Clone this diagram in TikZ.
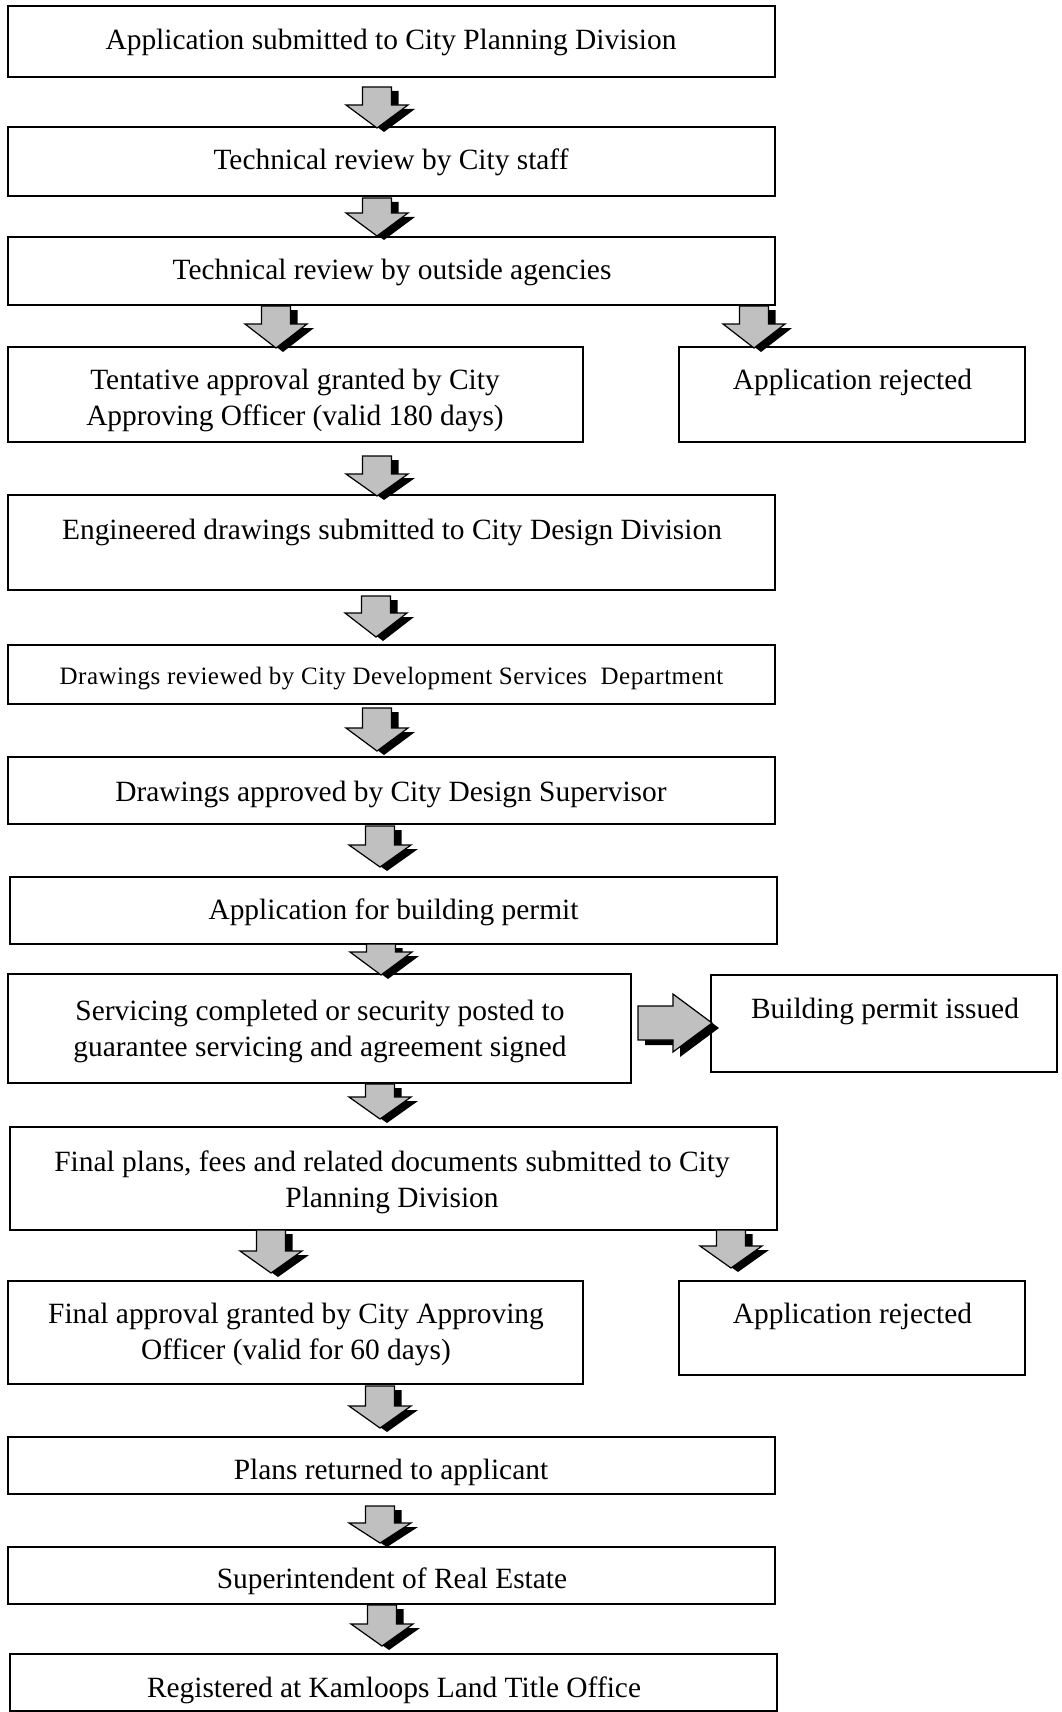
\documentclass[tikz,border=0pt]{standalone}
\usepackage{fontspec}
\setmainfont{Liberation Serif}
\newfontfamily\spacedfont[LetterSpace=2.0]{Liberation Serif}
\definecolor{arrowgray}{RGB}{192,192,192}
\newcommand\bx[5]{\node[box, minimum width={(#4-#2)*0.5pt}, minimum height={(#5-#3)*0.5pt}] (#1) at ({(#2+#4)/2},{(#3+#5)/2}) {};}
\begin{document}
\begin{tikzpicture}[x=0.5pt,y=-0.5pt,
  box/.style={draw=black, line width=1pt, inner sep=0pt, outer sep=0pt},
  txt/.style={anchor=base, align=center, inner sep=0pt, font=\fontsize{14.7}{18}\selectfont},
  arrowbody/.style={fill=arrowgray, draw=black, line width=0.6pt, line join=miter},
  pics/darrow/.style 2 args={code={
    \fill[black, shift={(7,4)}] (-14.5,0) -- (14.5,0) -- (14.5,#1) -- (31,#1) -- (0,#1+#2) -- (-31,#1) -- (-14.5,#1) -- cycle;
    \path[arrowbody] (-14.5,0) -- (14.5,0) -- (14.5,#1) -- (31,#1) -- (0,#1+#2) -- (-31,#1) -- (-14.5,#1) -- cycle;
  }},
  pics/rarrow/.style={code={
    \fill[black, shift={(7,5)}] (0,-17) -- (35,-17) -- (35,-29) -- (74,0) -- (35,29) -- (35,17) -- (0,17) -- cycle;
    \path[arrowbody] (0,-17) -- (35,-17) -- (35,-29) -- (74,0) -- (35,29) -- (35,17) -- (0,17) -- cycle;
  }}]
\useasboundingbox[fill=white] (0,0) rectangle (1061,1712);

% boxes
\bx{b1}{7.6}{6.5}{775}{77.5}
\bx{b2}{7.6}{126.6}{775}{196.5}
\bx{b3}{7.6}{237}{775}{304.5}
\bx{b4}{7.6}{347}{583}{442}
\bx{b5}{679}{347}{1025}{442}
\bx{b6}{7.6}{494.5}{775}{589.5}
\bx{b7}{7.6}{645}{775}{704}
\bx{b8}{7.6}{756.5}{775}{824}
\bx{b9}{9.8}{876.5}{777}{944}
\bx{b10}{7.6}{973.7}{631}{1083}
\bx{b11}{710.6}{975}{1056.7}{1072}
\bx{b12}{9.8}{1126.6}{777}{1230}
\bx{b13}{7.6}{1280.5}{583}{1384}
\bx{b14}{679}{1280.5}{1025}{1375.4}
\bx{b15}{7.6}{1436.5}{775}{1494.4}
\bx{b16}{7.6}{1546.8}{775}{1603.6}
\bx{b17}{9.8}{1654}{777}{1711}

% texts (multi-line nodes are placed by the baseline of their last line)
\node[txt] (t1) at (391,49.5) {Application submitted to City Planning Division};
\node[txt] (t2) at (391,169.5) {Technical review by City staff};
\node[txt] (t3) at (392,279.7) {Technical review by outside agencies};
\node[txt] (t4) at (295,425) {Tentative approval granted by City\\Approving Officer (valid 180 days)};
\node[txt] (t5) at (852.5,389) {Application rejected};
\node[txt] (t6) at (392,539.5) {Engineered drawings submitted to City Design Division};
\node[txt, font=\spacedfont\fontsize{12.5}{15}\selectfont] (t7) at (391.4,684) {Drawings reviewed by City Development Services\ \ Department};
\node[txt] (t8) at (391,801.5) {Drawings approved by City Design Supervisor};
\node[txt] (t9) at (393.5,919.4) {Application for building permit};
\node[txt] (t10) at (320,1056) {Servicing completed or security posted to\\guarantee servicing and agreement signed};
\node[txt] (t11) at (885,1018.7) {Building permit issued};
\node[txt] (t12) at (392,1207.6) {Final plans, fees and related documents submitted to City\\Planning Division};
\node[txt] (t13) at (296,1359.3) {Final approval granted by City Approving\\Officer (valid for 60 days)};
\node[txt] (t14) at (852.5,1323.3) {Application rejected};
\node[txt] (t15) at (391,1479.4) {Plans returned to applicant};
\node[txt] (t16) at (392,1588.6) {Superintendent of Real Estate};
\node[txt] (t17) at (394,1697.7) {Registered at Kamloops Land Title Office};

% block arrows
\pic at (377,87) {darrow={18}{23}};
\pic at (377,198) {darrow={15}{23}};
\pic at (276,306) {darrow={18}{24}};
\pic at (754,306) {darrow={18}{24}};
\pic at (377,456) {darrow={18}{22}};
\pic at (376,596) {darrow={17}{24}};
\pic at (377,708) {darrow={20}{23}};
\pic at (380,826) {darrow={19}{22}};
\pic at (381,944) {darrow={8}{23}};
\pic at (638,1023) {rarrow};
\pic at (380,1084) {darrow={13}{22}};
\pic at (271,1230) {darrow={21}{22}};
\pic at (731,1230) {darrow={16}{22}};
\pic at (380,1386) {darrow={20}{22}};
\pic at (380,1506) {darrow={17}{20}};
\pic at (382,1605) {darrow={19}{22}};
\end{tikzpicture}
\end{document}
